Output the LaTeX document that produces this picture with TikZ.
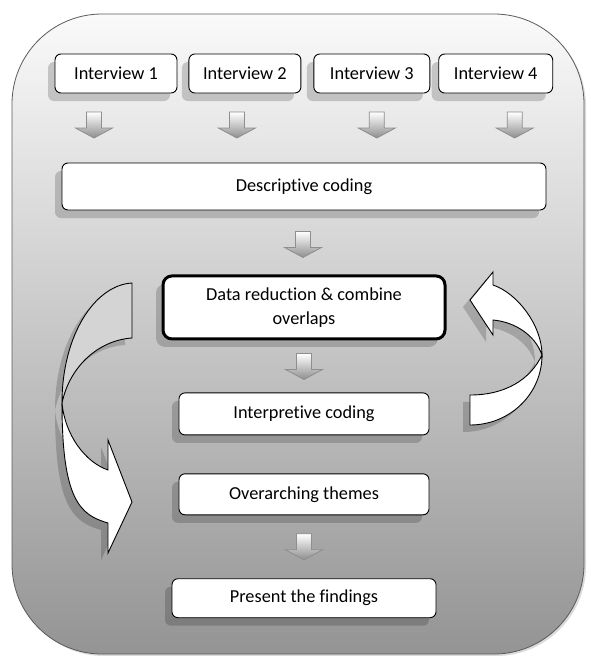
\documentclass[tikz,border=0pt]{standalone}
\usepackage{fontspec}
\setmainfont{Carlito}[Ligatures=CommonOff]
\usetikzlibrary{positioning,calc,shadows}
\definecolor{framegrey}{HTML}{5A5A5A}
\definecolor{arrowgrey}{HTML}{8E8E8E}
\definecolor{backgrey}{HTML}{D4D4D4}

\begin{document}
\begin{tikzpicture}[x=1pt,y=-1pt,
  stepbox/.style={draw,rounded corners=6pt,fill=white,align=center,inner sep=0pt,
                  font=\fontsize{18.3}{24}\selectfont,line width=.9pt,
                  drop shadow={shadow xshift=-7pt,shadow yshift=-8pt,fill=black,opacity=.18}},
  ivbox/.style={stepbox,minimum height=39pt},
  keybox/.style={stepbox,line width=3pt,rounded corners=9pt},
  curl/.style={draw,line width=.9pt,
               drop shadow={shadow xshift=-7pt,shadow yshift=-7pt,fill=black,opacity=.18}},
  flowarr/.pic={\shade[top color=white,bottom color=arrowgrey,draw=arrowgrey,line width=.8pt]
                (-7.5,-13) -- (7.5,-13) -- (7.5,3) -- (18.5,3) -- (0,13) -- (-18.5,3) -- (-7.5,3) -- cycle;}
]
\useasboundingbox (0,0) rectangle (590,656);

% Frame
\fill[black!14,rounded corners=90pt] (14,16) rectangle (586,656);
\shade[top color=black!2,middle color=black!16,bottom color=black!42,draw=framegrey,
       line width=.8pt,rounded corners=90pt] (12,14) rectangle (584,654);

% Interviews
\node[ivbox,minimum width=122pt] (iv1) at (116,73.5) {Interview 1};
\node[ivbox,minimum width=112pt,right=11pt of iv1] (iv2) {Interview 2};
\node[ivbox,minimum width=116pt,right=12pt of iv2] (iv3) {Interview 3};
\node[ivbox,minimum width=114pt,right=8pt of iv3] (iv4) {Interview 4};

% Coding steps
\node[stepbox,minimum width=484pt,minimum height=47pt] (desc) at (304,186.5) {Descriptive coding};
\node[keybox,minimum width=282pt,minimum height=63pt,below=64pt of desc] (reduce)
  {Data reduction \& combine\\overlaps};
\node[stepbox,minimum width=250pt,minimum height=42pt,below=52pt of reduce] (interp) {Interpretive coding};
\node[stepbox,minimum width=250pt,minimum height=41pt,below=38pt of interp] (themes) {Overarching themes};
\node[stepbox,minimum width=264pt,minimum height=39pt,below=63pt of themes] (present) {Present the findings};

% Block arrows
\path ($(iv1.south)!.5!(iv1.south |- desc.north)$) ++(-22,-3) pic {flowarr};
\path ($(iv2.south)!.5!(iv2.south |- desc.north)$) ++(-8,-3) pic {flowarr};
\path ($(iv3.south)!.5!(iv3.south |- desc.north)$) ++(5,-3) pic {flowarr};
\path ($(iv4.south)!.5!(iv4.south |- desc.north)$) ++(19,-3) pic {flowarr};
\path ($(desc.south)!.5!(reduce.north)$) ++(-1,2) pic {flowarr};
\path ($(reduce.south)!.5!(interp.north)$) pic {flowarr};
\path ($(themes.south)!.5!(present.north)$) pic {flowarr};

% Loop down on the left
\draw[curl,fill=backgrey] (132,283) .. controls (95,285) and (62,335) .. (62,403)
  .. controls (70,365) and (100,340) .. (132,338) -- cycle;
\draw[curl,fill=white] (62,403) .. controls (62,500) and (80,515) .. (108,523)
  -- (108,553) -- (132,502) -- (108,440) -- (108,470)
  .. controls (85,462) and (65,435) .. (62,403) -- cycle;

% Loop back up on the right
\draw[curl,fill=white] (470,395) .. controls (505,395) and (530,380) .. (542,355)
  .. controls (542,394) and (510,425) .. (470,425) -- cycle;
\draw[curl,fill=white] (493,285) .. controls (517,293) and (542,325) .. (542,355)
  .. controls (535,335) and (515,322) .. (493,320)
  -- (493,335) -- (470,300) -- (493,272) -- cycle;

\end{tikzpicture}
\end{document}
